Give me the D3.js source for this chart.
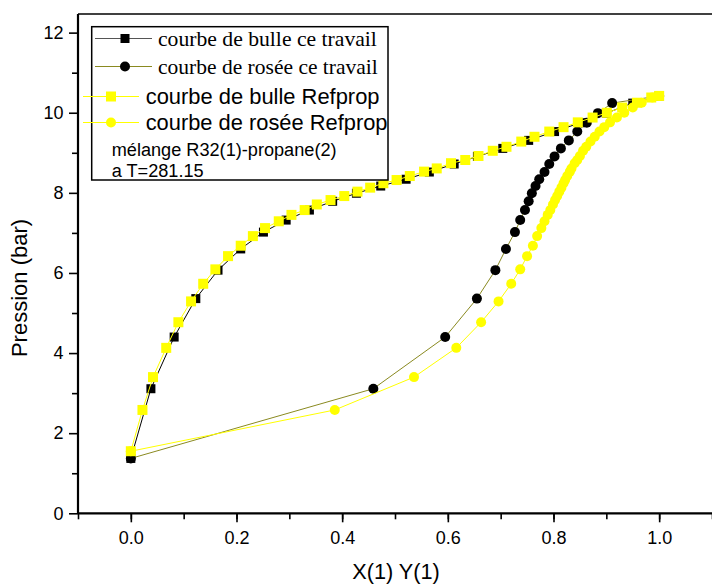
<!DOCTYPE html>
<html>
<head>
<meta charset="utf-8">
<script src="https://cdn.jsdelivr.net/npm/d3@7/dist/d3.min.js"></script>
<style>
  html, body { margin: 0; padding: 0; background: #fff; }
  svg { display: block; }
</style>
</head>
<body>
<svg id="chart" width="712" height="585"></svg>
<script>
// R32(1)-propane(2) phase envelope at T = 281.15 K

// this work: bubble curve x(1), dew curve y(1), shared pressures (bar)
const travailP = [1.37, 3.11, 4.40, 5.36, 6.07, 6.60, 7.02, 7.32, 7.57, 7.79, 7.99, 8.17,
                  8.34, 8.52, 8.72, 8.91, 9.11, 9.31, 9.53, 9.75, 9.99, 10.24, 10.42];
const travailX = [0, 0.038, 0.082, 0.123, 0.165, 0.208, 0.251, 0.294, 0.338, 0.382, 0.427, 0.473,
                  0.521, 0.565, 0.612, 0.656, 0.704, 0.753, 0.802, 0.851, 0.900, 0.950, 1.0];
const travailY = [0, 0.459, 0.595, 0.655, 0.690, 0.710, 0.727, 0.737, 0.746, 0.753, 0.759, 0.766,
                  0.773, 0.783, 0.792, 0.802, 0.814, 0.829, 0.845, 0.863, 0.884, 0.911, 1.0];

// Refprop: bubble curve x(1), dew curve y(1), shared pressures (bar)
const refpropP = [1.55, 2.58, 3.40, 4.13, 4.77, 5.29, 5.73, 6.09, 6.42, 6.68, 6.92, 7.12,
                  7.29, 7.45, 7.57, 7.71, 7.82, 7.92, 8.03, 8.13, 8.24, 8.32, 8.42, 8.53,
                  8.61, 8.74, 8.82, 8.92, 9.05, 9.15, 9.28, 9.40, 9.53, 9.64, 9.76, 9.88,
                  10.00, 10.13, 10.25, 10.38, 10.42];
const refpropX = [0, 0.022, 0.042, 0.067, 0.090, 0.114, 0.137, 0.160, 0.184, 0.208, 0.231, 0.254,
                  0.280, 0.304, 0.329, 0.352, 0.378, 0.404, 0.429, 0.453, 0.478, 0.503, 0.528, 0.555,
                  0.579, 0.606, 0.633, 0.658, 0.685, 0.711, 0.739, 0.764, 0.792, 0.819, 0.846, 0.874,
                  0.901, 0.930, 0.958, 0.985, 1.0];
const refpropY = [0, 0.386, 0.536, 0.616, 0.663, 0.696, 0.720, 0.737, 0.750, 0.761, 0.769, 0.777,
                  0.783, 0.789, 0.794, 0.799, 0.803, 0.807, 0.811, 0.815, 0.819, 0.822, 0.826, 0.831,
                  0.834, 0.840, 0.845, 0.850, 0.856, 0.862, 0.870, 0.878, 0.887, 0.896, 0.907, 0.920,
                  0.934, 0.950, 0.967, 0.987, 1.0];

const xTicks = [0.0, 0.2, 0.4, 0.6, 0.8, 1.0];
const yTicks = [0, 2, 4, 6, 8, 10, 12];
const legendLabels = ["courbe de bulle ce travail", "courbe de rosée ce travail",
                      "courbe de bulle Refprop", "courbe de rosée Refprop"];
const noteLines = ["mélange R32(1)-propane(2)", "a T=281.15"];

const svg = d3.select("#chart");
const area = { left: 78, right: 712, top: 14, bottom: 513.3 };

const x = d3.scaleLinear().domain([-0.1, 1.1]).range([area.left, area.right]);
const y = d3.scaleLinear().domain([0, 12.465]).range([area.bottom, area.top]);

const olive = "#8a8a20";
const yellow = "#ffff00";
const sans = "Liberation Sans, Arial, sans-serif";
const serif = "Liberation Serif, Times New Roman, serif";

// frame: top edge
svg.append("line").attr("x1", area.left).attr("x2", area.right)
  .attr("y1", area.top).attr("y2", area.top)
  .attr("stroke", "#000").attr("stroke-width", 1.6);

// minor ticks
const xMinor = d3.range(-0.1, 1.1001, 0.1).map(v => +v.toFixed(2));
const yMinor = d3.range(1, 12.5, 2);

const gx = svg.append("g").attr("transform", `translate(0,${area.bottom})`);
gx.call(d3.axisBottom(x).tickValues(xMinor).tickSize(6).tickFormat(""))
  .call(g => g.select(".domain").remove());
gx.append("g").call(d3.axisBottom(x).tickValues(xTicks).tickSize(9).tickPadding(9)
  .tickFormat(d3.format(".1f")))
  .call(g => g.select(".domain").remove());

const gy = svg.append("g").attr("transform", `translate(${area.left},0)`);
gy.call(d3.axisLeft(y).tickValues(yMinor).tickSize(6).tickFormat(""))
  .call(g => g.select(".domain").remove());
gy.append("g").call(d3.axisLeft(y).tickValues(yTicks).tickSize(9).tickPadding(5.5)
  .tickFormat(d3.format("d")))
  .call(g => g.select(".domain").remove());

svg.selectAll(".tick line").attr("stroke", "#000").attr("stroke-width", 1.6);
svg.selectAll(".tick text").attr("font-family", sans)
  .attr("font-size", 18).attr("fill", "#000");

// axis lines
svg.append("line").attr("x1", area.left).attr("x2", area.right)
  .attr("y1", area.bottom).attr("y2", area.bottom)
  .attr("stroke", "#000").attr("stroke-width", 2.2);
svg.append("line").attr("x1", area.left).attr("x2", area.left)
  .attr("y1", area.top).attr("y2", area.bottom)
  .attr("stroke", "#000").attr("stroke-width", 2.2);

// axis titles
svg.append("text")
  .attr("transform", "translate(26.5,288) rotate(-90)")
  .attr("text-anchor", "middle").attr("font-family", sans)
  .attr("font-size", 22).text("Pression (bar)");
svg.append("text").attr("x", 396).attr("y", 579)
  .attr("text-anchor", "middle").attr("font-family", sans)
  .attr("font-size", 21.7).text("X(1) Y(1)");

const plot = svg.append("g");
const line = d3.line().x(d => x(d[0])).y(d => y(d[1]));

const zip = (xs, ps) => xs.map((v, i) => [v, ps[i]]);
const travailBulle = zip(travailX, travailP);
const travailRosee = zip(travailY, travailP);
const refpropBulle = zip(refpropX, refpropP);
const refpropRosee = zip(refpropY, refpropP);

function drawSquares(data, size, fill) {
  plot.append("g").selectAll("rect").data(data).join("rect")
    .attr("x", d => x(d[0]) - size / 2).attr("y", d => y(d[1]) - size / 2)
    .attr("width", size).attr("height", size).attr("fill", fill);
}
function drawCircles(data, r, fill) {
  plot.append("g").selectAll("circle").data(data).join("circle")
    .attr("cx", d => x(d[0])).attr("cy", d => y(d[1])).attr("r", r).attr("fill", fill);
}

// this work
plot.append("path").datum(travailBulle).attr("d", line).attr("fill", "none")
  .attr("stroke", "#000").attr("stroke-width", 1);
drawSquares(travailBulle, 9, "#000");
plot.append("path").datum(travailRosee).attr("d", line).attr("fill", "none")
  .attr("stroke", olive).attr("stroke-width", 1);
drawCircles(travailRosee, 5, "#000");

// Refprop
plot.append("path").datum(refpropBulle).attr("d", line).attr("fill", "none")
  .attr("stroke", yellow).attr("stroke-width", 1);
drawSquares(refpropBulle, 10, yellow);
plot.append("path").datum(refpropRosee).attr("d", line).attr("fill", "none")
  .attr("stroke", yellow).attr("stroke-width", 1);
drawCircles(refpropRosee, 5, yellow);

// legend
const leg = svg.append("g");
leg.append("rect").attr("x", 91.7).attr("y", 26.7).attr("width", 296.3).attr("height", 153.3)
  .attr("fill", "#fff").attr("stroke", "#000").attr("stroke-width", 1.5);

// size a text so that it spans the given width; returns the font size used
function fitText(sel, base, width) {
  sel.attr("font-size", base);
  const len = sel.node().getComputedTextLength();
  const size = len > 0 ? base * width / len : base;
  sel.attr("font-size", size);
  return size;
}

const legRows = [
  { y: 38.5, x1: 95, x2: 152, mx: 125, stroke: "#555", shape: "square", fill: "#000", size: 9,
    tx: 158, font: serif, w: 219 },
  { y: 66.5, x1: 95, x2: 152, mx: 125, stroke: olive, shape: "circle", fill: "#000", size: 10,
    tx: 158, font: serif, w: 220 },
  { y: 96.5, x1: 83, x2: 139, mx: 111, stroke: yellow, shape: "square", fill: yellow, size: 10,
    tx: 145.7, font: sans, w: 234 },
  { y: 122.5, x1: 83, x2: 139, mx: 111, stroke: yellow, shape: "circle", fill: yellow, size: 10,
    tx: 145.7, font: sans, w: 242 }
];
legRows.forEach((r, i) => {
  leg.append("line").attr("x1", r.x1).attr("x2", r.x2).attr("y1", r.y).attr("y2", r.y)
    .attr("stroke", r.stroke).attr("stroke-width", 1.2);
  if (r.shape === "square") {
    leg.append("rect").attr("x", r.mx - r.size / 2).attr("y", r.y - r.size / 2)
      .attr("width", r.size).attr("height", r.size).attr("fill", r.fill);
  } else {
    leg.append("circle").attr("cx", r.mx).attr("cy", r.y).attr("r", r.size / 2).attr("fill", r.fill);
  }
  const t = leg.append("text").attr("x", r.tx).attr("y", r.y).attr("dy", "0.33em")
    .attr("font-family", r.font).text(legendLabels[i]);
  fitText(t, 20, r.w);
});

// mixture note: both lines share the size fitted on the first one
const notes = noteLines.map((txt, i) =>
  leg.append("text").attr("x", 111.7).attr("y", 149.5 + i * 21).attr("dy", "0.35em")
    .attr("font-family", sans).text(txt));
const noteSize = fitText(notes[0], 18, 225);
notes[1].attr("font-size", noteSize);
</script>
</body>
</html>
